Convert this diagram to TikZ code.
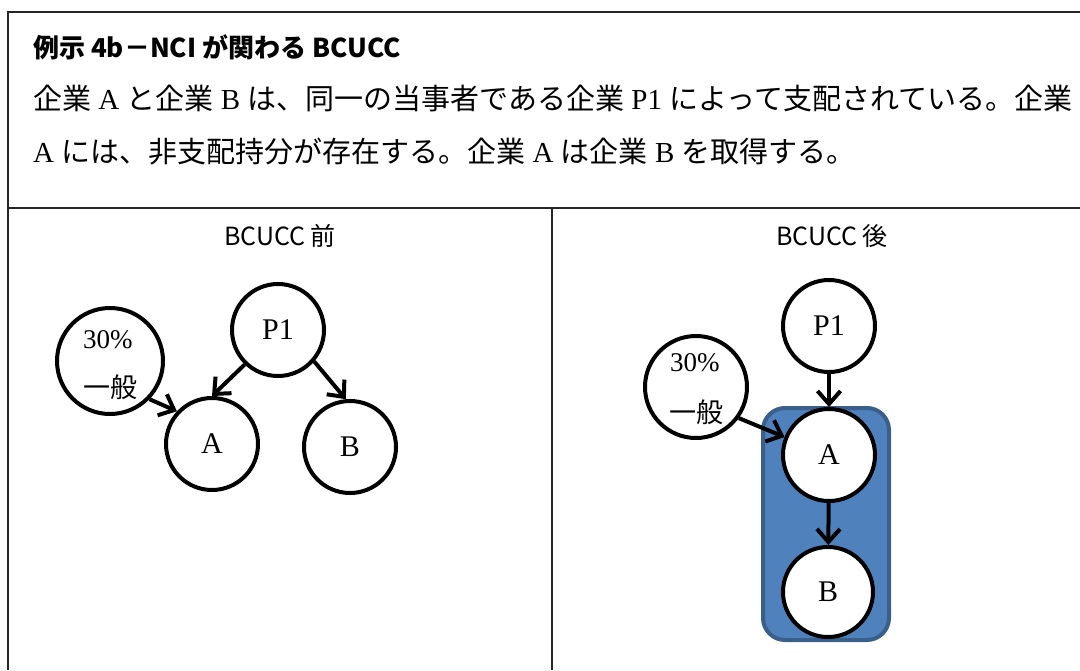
\documentclass[tikz,border=0pt]{standalone}
\usepackage{fontspec}
\setmainfont{Liberation Serif}
\newfontfamily\cjk{Noto Sans CJK JP}
\usetikzlibrary{arrows.meta}
\definecolor{boxblue}{HTML}{4F81BD}
\definecolor{boxedge}{HTML}{3A5F8B}
\newcommand\jp[1]{{\cjk #1}}
\tikzset{
  ent/.style={circle, draw=black, line width=4pt, fill=white, minimum size=92pt, inner sep=0pt, font=\fontsize{30}{34}\selectfont},
  gen/.style={circle, draw=black, line width=4pt, fill=white, inner sep=0pt},
  lab/.style={anchor=west, inner sep=0pt, font=\fontsize{27}{32}\selectfont},
  arr/.style={line width=4pt, -{Straight Barb[length=13pt,width=23pt]}},
  frame/.style={line width=1.4pt, draw=black!85},
  body/.style={anchor=west, inner sep=0pt, font=\fontsize{29}{34}\selectfont},
  head/.style={inner sep=0pt, font=\cjk\fontsize{25}{30}\selectfont}
}
\begin{document}
\begin{tikzpicture}[x=1pt,y=-1pt]
\useasboundingbox (0,0) rectangle (1080,670);
% frame
\draw[frame, line width=2pt] (8,670) -- (8,12) -- (1080,12);
\draw[frame] (8,208) -- (1080,208);
\draw[frame] (552,208) -- (552,670);
% title and body
\node[anchor=west, inner sep=0pt, font=\cjk\bfseries\fontsize{26}{30}\selectfont] (title) at (33,47) {例示 4b－NCI が関わる BCUCC};
\node[body] (l1) at (33,98) {\jp{企業} A \jp{と企業} B \jp{は、同一の当事者である企業} P1 \jp{によって支配されている。企業}};
\node[body] (l2) at (33,152) {A \jp{には、非支配持分が存在する。企業} A \jp{は企業} B \jp{を取得する。}};
% headers
\node[head] (hb) at (280,236) {BCUCC 前};
\node[head] (ha) at (832,236) {BCUCC 後};
% left diagram
\node[gen, minimum size=106pt] (g1) at (110,361) {};
\node[lab] (g1a) at (83,340) {30\%};
\node[lab] (g1b) at (83,387) {\jp{一般}};
\node[ent] (P1) at (278,330) {P1};
\node[ent] (A1) at (212,444) {A};
\node[ent] (B1) at (350,447) {B};
\draw[arr] (P1.-134) -- (A1.90);
\draw[arr] (P1.-41) -- (B1.95);
\draw[arr] (g1.-44) -- (A1.137);
% right diagram
\node[draw=boxedge, fill=boxblue, line width=4pt, rounded corners=22pt, minimum width=126pt, minimum height=232pt, inner sep=0pt] (grp) at (826,524) {};
\node[ent] (P2) at (829,326) {P1};
\node[gen, minimum size=102pt] (g2) at (696,387) {};
\node[lab] (g2a) at (670,363) {30\%};
\node[lab] (g2b) at (669,412) {\jp{一般}};
\node[ent] (A2) at (829,455) {A};
\node[ent, minimum size=90pt] (B2) at (828,592) {B};
\draw[arr] (P2) -- (A2);
\draw[arr] (A2) -- (B2);
\draw[arr] (g2.-36) -- (A2.158);
\end{tikzpicture}
\end{document}
